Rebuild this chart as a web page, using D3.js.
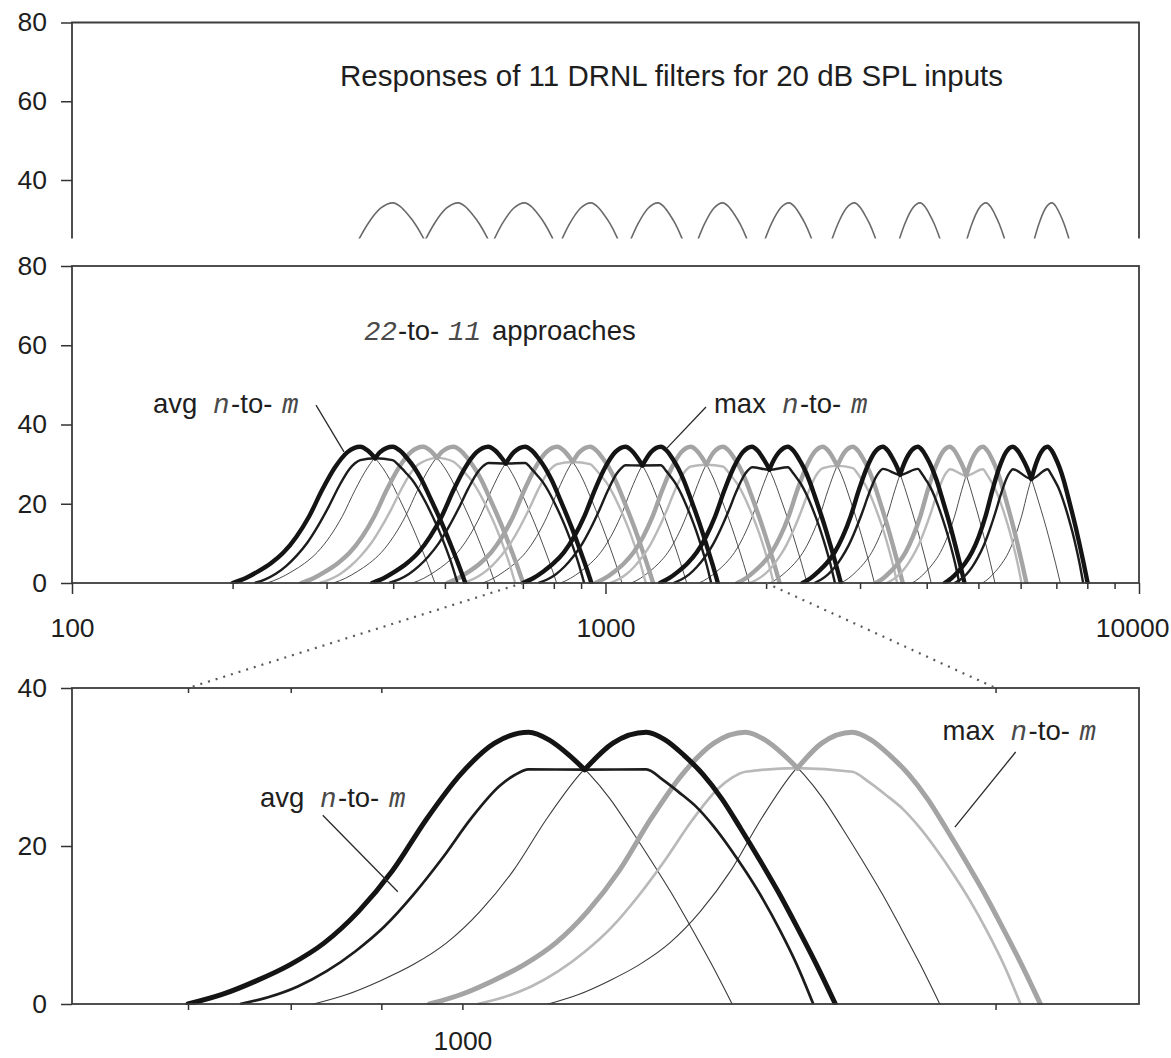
<!DOCTYPE html>
<html>
<head>
<meta charset="utf-8">
<title>DRNL filter responses – 22-to-11 channel reduction</title>
<script src="https://cdn.jsdelivr.net/npm/d3@7/dist/d3.min.js"></script>
<style>
  html, body { margin: 0; padding: 0; background: #fff; }
  svg text { font-family: "Liberation Sans", Arial, Helvetica, sans-serif; fill: #1e1e1e; }
  svg .mono { font-family: "Liberation Mono", "DejaVu Sans Mono", monospace; font-style: italic; fill: #4a4a4a; }
</style>
</head>
<body>
<svg id="chart" width="1171" height="1058"></svg>
<script>
// ---------------------------------------------------------------------------
// Axis ticks
// ---------------------------------------------------------------------------
const freqTicksMajor = [100, 1000, 10000];
const freqTicksMinor = [200, 300, 400, 500, 600, 700, 800, 900,
                        2000, 3000, 4000, 5000, 6000, 7000, 8000, 9000];
const zoomFreqTicks = [700, 800, 900, 1000, 2000];
const zoomFreqLabels = [1000];
const zoomTopTicks = [700, 800, 900, 2000];
const levelTicksTop = [40, 60, 80];
const levelTicksMid = [0, 20, 40, 60, 80];
const levelTicksZoom = [0, 20, 40];
const zoomBand = [700, 2000];          // frequency band enlarged in the lower panel

// ---------------------------------------------------------------------------
// 11 DRNL filters (upper panel): centre frequency, 0-dB crossings, peak level
// ---------------------------------------------------------------------------
const drnlCF     = [400, 530, 706, 940, 1255, 1660, 2210, 2930, 3890, 5170, 6870];
const drnlLowHz  = [232, 315, 434, 591, 814, 1118, 1505, 2047, 2791, 3807, 5184];
const drnlHighHz = [547, 716, 940, 1233, 1605, 2120, 2777, 3633, 4757, 6237, 8165];
const drnlPeakDb = [34.2, 34.2, 34.2, 34.2, 34.2, 34.2, 34.2, 34.2, 34.2, 34.2, 34.2];

// ---------------------------------------------------------------------------
// 22 filters combined pairwise into 11 channels (middle and lower panels)
// ---------------------------------------------------------------------------
const filterCF = [347, 399, 455, 519, 603, 707, 812, 936, 1090, 1270, 1445,
                  1660, 1882, 2198, 2556, 2909, 3311, 3851, 4421, 5099, 5802, 6742];
const filterLowHz = [200, 232, 269, 309, 365, 435, 505, 589, 700, 824, 958,
                     1118, 1265, 1497, 1766, 2032, 2340, 2763, 3213, 3755, 4321, 5089];
const filterHighHz = [479, 546, 621, 701, 810, 941, 1074, 1228, 1420, 1624, 1860,
                      2120, 2386, 2762, 3192, 3607, 4078, 4709, 5371, 6151, 7120, 8012];
const filterPeakDb = [34.4, 34.4, 34.4, 34.4, 34.4, 34.4, 34.4, 34.4, 34.4, 34.4, 34.4,
                      34.4, 34.4, 34.4, 34.4, 34.4, 34.4, 34.4, 34.4, 34.4, 34.4, 34.4];

// one shade per channel (pair of filters)
const pairShade = ["black", "gray", "black", "gray", "black", "gray",
                   "black", "gray", "black", "gray", "black"];

// averaged channel: 0-dB crossings and level at the two centre frequencies
const avgLowHz  = [220, 291, 393, 541, 749, 1020, 1341, 1865, 2463, 3367, 4512];
const avgHighHz = [528, 677, 912, 1190, 1578, 2066, 2692, 3520, 4604, 6023, 7859];
const avgShoulderDb = [31.0, 30.6, 30.3, 30.0, 29.7, 29.4, 29.2, 29.0, 28.8, 28.7, 28.7];

// channels enlarged in the lower panel
const zoomPairs = [4, 5];

// ---------------------------------------------------------------------------
// Response shapes: position between 0-dB crossing and centre frequency
// (fraction of the log-frequency span) vs. fraction of the peak level
// ---------------------------------------------------------------------------
const riseShape = [[0, 0], [0.1, 0.035], [0.2, 0.085], [0.3, 0.145], [0.4, 0.225],
                   [0.5, 0.34], [0.6, 0.49], [0.7, 0.68], [0.8, 0.845], [0.9, 0.96], [1, 1]];
const fallShape = [[0, 1], [0.1, 0.972], [0.2, 0.915], [0.3, 0.845], [0.4, 0.755],
                   [0.5, 0.645], [0.6, 0.53], [0.7, 0.41], [0.8, 0.28], [0.9, 0.145], [1, 0]];
const avgRiseShape = [[0, 0], [0.1, 0.03], [0.2, 0.075], [0.3, 0.14], [0.4, 0.225],
                      [0.5, 0.33], [0.6, 0.465], [0.7, 0.62], [0.8, 0.79], [0.9, 0.93],
                      [0.95, 0.975], [1, 1]];
const avgFallShape = [[0, 1], [0.1, 0.955], [0.2, 0.9], [0.3, 0.84], [0.4, 0.76],
                      [0.5, 0.665], [0.6, 0.56], [0.7, 0.445], [0.8, 0.315], [0.9, 0.17], [1, 0]];

// ---------------------------------------------------------------------------
// Scales
// ---------------------------------------------------------------------------
const svg = d3.select("#chart");
const xWide = d3.scaleLog().domain([100, 10000]).range([72, 1139]);
const yTop  = d3.scaleLinear().domain([0, 80]).range([337.5, 22.5]);
const topCut = 238.5;
const yMid  = d3.scaleLinear().domain([0, 80]).range([583, 266]);
const xZoom = d3.scaleLog().domain([602, 2410]).range([72, 1139]);
const yZoom = d3.scaleLinear().domain([0, 40]).range([1004, 688]);

// ---------------------------------------------------------------------------
// Curve construction
// ---------------------------------------------------------------------------
const lg = Math.log10, p10 = v => Math.pow(10, v);

function responsePoints(cf, lo, hi, peak, rise, fall) {
  const lc = lg(cf), ll = lg(lo), lh = lg(hi);
  const pts = rise.map(([u, v]) => [p10(ll + u * (lc - ll)), v * peak]);
  fall.slice(1).forEach(([w, v]) => pts.push([p10(lc + w * (lh - lc)), v * peak]));
  return pts;
}

function levelAt(pts, f) {
  const L = lg(f);
  if (L <= lg(pts[0][0])) return pts[0][1];
  for (let i = 0; i < pts.length - 1; i++) {
    const a = lg(pts[i][0]), b = lg(pts[i + 1][0]);
    if (L >= a && L <= b) {
      const t = (L - a) / (b - a);
      return pts[i][1] + t * (pts[i + 1][1] - pts[i][1]);
    }
  }
  return pts[pts.length - 1][1];
}

const filterPts = filterCF.map((cf, i) =>
  responsePoints(cf, filterLowHz[i], filterHighHz[i], filterPeakDb[i], riseShape, fallShape));
const drnlPts = drnlCF.map((cf, i) =>
  responsePoints(cf, drnlLowHz[i], drnlHighHz[i], drnlPeakDb[i], riseShape, fallShape));

// where the two filters of a channel cross (the notch of the max curve)
function crossing(k) {
  const A = filterPts[2 * k], B = filterPts[2 * k + 1];
  let lo = lg(filterCF[2 * k]), hi = lg(filterCF[2 * k + 1]);
  for (let it = 0; it < 50; it++) {
    const m = (lo + hi) / 2;
    if (levelAt(A, p10(m)) - levelAt(B, p10(m)) > 0) lo = m; else hi = m;
  }
  const f = p10((lo + hi) / 2);
  return [f, levelAt(A, f)];
}

const channels = d3.range(11).map(k => {
  const [fDip, dbDip] = crossing(k);
  const A = filterPts[2 * k], B = filterPts[2 * k + 1];
  const maxLeft = A.filter(d => d[0] < fDip).concat([[fDip, dbDip]]);
  const maxRight = [[fDip, dbDip]].concat(B.filter(d => d[0] > fDip));
  const la = lg(avgLowHz[k]), ca = lg(filterCF[2 * k]), cb = lg(filterCF[2 * k + 1]), ha = lg(avgHighHz[k]);
  const s = avgShoulderDb[k];
  const avg = avgRiseShape.map(([u, v]) => [p10(la + u * (ca - la)), v * s]);
  avg.push([fDip, dbDip]);
  avgFallShape.forEach(([w, v]) => avg.push([p10(cb + w * (ha - cb)), v * s]));
  return { k, shade: pairShade[k], maxLeft, maxRight, avg };
});

// ---------------------------------------------------------------------------
// Helpers
// ---------------------------------------------------------------------------
const defs = svg.append("defs");
function clip(id, x0, y0, x1, y1) {
  defs.append("clipPath").attr("id", id)
    .append("rect").attr("x", x0).attr("y", y0).attr("width", x1 - x0).attr("height", y1 - y0);
  return `url(#${id})`;
}

const shadeStyle = {
  black: { max: "#141414", avg: "#1c1c1c" },
  gray:  { max: "#a4a4a4", avg: "#b9b9b9" }
};

function drawBank(layer, x, y, pairs, st) {
  const line = d3.line().x(d => x(d[0])).y(d => y(d[1])).curve(d3.curveMonotoneX);
  const filt = pairs.flatMap(k => [2 * k, 2 * k + 1]);
  layer.append("g").selectAll("path").data(filt).join("path")
    .attr("d", i => line(filterPts[i]))
    .attr("fill", "none").attr("stroke", "#3a3a3a").attr("stroke-width", st.thin);
  ["gray", "black"].forEach(shade => {
    const chans = channels.filter(c => pairs.includes(c.k) && c.shade === shade);
    const g = layer.append("g");
    chans.forEach(c => {
      g.append("path").attr("d", line(c.avg))
        .attr("fill", "none").attr("stroke", shadeStyle[shade].avg)
        .attr("stroke-width", st.avg).attr("stroke-linejoin", "round");
      [c.maxLeft, c.maxRight].forEach(seg => {
        g.append("path").attr("d", line(seg))
          .attr("fill", "none").attr("stroke", shadeStyle[shade].max)
          .attr("stroke-width", st.max).attr("stroke-linejoin", "round").attr("stroke-linecap", "round");
      });
    });
  });
}

function styleAxis(g, fontSize) {
  g.attr("font-family", null).attr("font-size", null);
  g.selectAll(".tick line").attr("stroke", "#333").attr("stroke-width", 1.5);
  g.selectAll(".tick text").style("font-size", fontSize + "px").attr("fill", "#1e1e1e");
  g.select(".domain").remove();
}

const frame = { stroke: "#3c3c3c", width: 1.8 };
const fs = 26.5;

// ---------------------------------------------------------------------------
// Upper panel: responses of the 11 DRNL filters
// ---------------------------------------------------------------------------
const topG = svg.append("g");
const topLine = d3.line().x(d => xWide(d[0])).y(d => yTop(d[1])).curve(d3.curveMonotoneX);
topG.append("g").attr("clip-path", clip("clipTop", 72, 22.5, 1139, topCut))
  .selectAll("path").data(drnlPts).join("path")
  .attr("d", topLine).attr("fill", "none").attr("stroke", "#6a6a6a").attr("stroke-width", 1.6);
topG.append("path")
  .attr("d", `M${xWide(100)},${topCut}V${yTop(80)}H${xWide(10000)}V${topCut}`)
  .attr("fill", "none").attr("stroke", frame.stroke).attr("stroke-width", frame.width);
topG.append("g").attr("transform", `translate(${xWide(100)},0)`)
  .call(d3.axisLeft(yTop).tickValues(levelTicksTop).tickSize(11).tickPadding(14).tickFormat(d3.format("d")))
  .call(g => styleAxis(g, fs));
topG.append("text").attr("x", xWide(318)).attr("y", yTop(63.9))
  .style("font-size", "29.5px")
  .text("Responses of 11 DRNL filters for 20 dB SPL inputs");

// ---------------------------------------------------------------------------
// Middle panel: 22-to-11 approaches over the full frequency range
// ---------------------------------------------------------------------------
const midG = svg.append("g");
const midPlot = midG.append("g").attr("clip-path", clip("clipMid", 72, 262, 1139, yMid(0) + 1));
drawBank(midPlot, xWide, yMid, d3.range(11), { thin: 0.9, avg: 2.4, max: 4.4 });
midG.append("rect").attr("x", xWide(100)).attr("y", yMid(80))
  .attr("width", xWide(10000) - xWide(100)).attr("height", yMid(0) - yMid(80))
  .attr("fill", "none").attr("stroke", frame.stroke).attr("stroke-width", frame.width);
midG.append("g").attr("transform", `translate(${xWide(100)},0)`)
  .call(d3.axisLeft(yMid).tickValues(levelTicksMid).tickSize(11).tickPadding(14).tickFormat(d3.format("d")))
  .call(g => styleAxis(g, fs));
midG.append("g").attr("transform", `translate(0,${yMid(0)})`)
  .call(d3.axisBottom(xWide).tickValues(freqTicksMajor).tickSize(11).tickPadding(24).tickFormat(d3.format("d")))
  .call(g => styleAxis(g, fs))
  // keep the last label inside the page edge
  .call(g => g.selectAll(".tick text").filter(d => d === 10000)
    .attr("text-anchor", "end").attr("x", 1169 - xWide(10000)));
midG.append("g").attr("transform", `translate(0,${yMid(0)})`)
  .call(d3.axisBottom(xWide).tickValues(freqTicksMinor).tickSize(6).tickFormat(""))
  .call(g => styleAxis(g, fs));

// ---------------------------------------------------------------------------
// Lower panel: enlarged view of two channels
// ---------------------------------------------------------------------------
const lowG = svg.append("g");
const lowPlot = lowG.append("g").attr("clip-path", clip("clipLow", 72, 684, 1139, yZoom(0) + 1));
drawBank(lowPlot, xZoom, yZoom, zoomPairs, { thin: 1.1, avg: 2.7, max: 5 });
lowG.append("rect").attr("x", 72).attr("y", yZoom(40))
  .attr("width", 1139 - 72).attr("height", yZoom(0) - yZoom(40))
  .attr("fill", "none").attr("stroke", frame.stroke).attr("stroke-width", frame.width);
lowG.append("g").attr("transform", "translate(72,0)")
  .call(d3.axisLeft(yZoom).tickValues(levelTicksZoom).tickSize(11).tickPadding(14).tickFormat(d3.format("d")))
  .call(g => styleAxis(g, fs));
lowG.append("g").attr("transform", `translate(0,${yZoom(0)})`)
  .call(d3.axisBottom(xZoom).tickValues(zoomFreqTicks).tickSize(6).tickPadding(21)
    .tickFormat(d => zoomFreqLabels.includes(d) ? d3.format("d")(d) : ""))
  .call(g => styleAxis(g, fs));
lowG.append("g").attr("transform", `translate(0,${yZoom(40)})`)
  .call(d3.axisBottom(xZoom).tickValues(zoomTopTicks).tickSize(5).tickFormat(""))
  .call(g => styleAxis(g, fs));

// dotted guides linking the enlarged band to the middle panel
svg.append("g").selectAll("line").data(zoomBand).join("line")
  .attr("x1", f => xWide(f)).attr("y1", yMid(0))
  .attr("x2", f => xZoom(f)).attr("y2", yZoom(40))
  .attr("stroke", "#5a5a5a").attr("stroke-width", 2.2).attr("stroke-dasharray", "2,6");

// ---------------------------------------------------------------------------
// Labels and leader lines
// ---------------------------------------------------------------------------
function nToM(g, x, y, word, offs) {
  const t = g.append("text").attr("x", x).attr("y", y).style("font-size", "27.5px");
  t.append("tspan").text(word);
  t.append("tspan").attr("class", "mono").attr("x", x + offs[0]).text("n");
  t.append("tspan").attr("x", x + offs[1]).text("-to-");
  t.append("tspan").attr("class", "mono").attr("x", x + offs[2]).text("m");
}
function leader(g, x1, y1, x2, y2) {
  g.append("line").attr("x1", x1).attr("y1", y1).attr("x2", x2).attr("y2", y2)
    .attr("stroke", "#2a2a2a").attr("stroke-width", 1.3);
}

// "22-to- 11 approaches"
const tx = xWide(352.6);
const ttl = midG.append("text").attr("x", tx).attr("y", yMid(61.3)).style("font-size", "27.5px");
ttl.append("tspan").attr("class", "mono").text("22");
ttl.append("tspan").attr("x", tx + 34).text("-to-");
ttl.append("tspan").attr("class", "mono").attr("x", tx + 84).text("11");
ttl.append("tspan").attr("x", tx + 128).text("approaches");

nToM(midG, xWide(141.9), yMid(42.9), "avg", [60, 78, 129]);
leader(midG, xWide(286.7), yMid(44.9), xWide(323.5), yMid(33.1));
nToM(midG, xWide(1597), yMid(42.9), "max", [68, 86, 137]);
leader(midG, xWide(1543), yMid(44.4), xWide(1305), yMid(34.1));

nToM(lowG, xZoom(768.7), yZoom(24.9), "avg", [60, 78, 129]);
leader(lowG, xZoom(834), yZoom(23.9), xZoom(919.5), yZoom(14.2));
nToM(lowG, xZoom(1867), yZoom(33.4), "max", [68, 86, 137]);
leader(lowG, xZoom(2053), yZoom(31.9), xZoom(1897), yZoom(22.4));
</script>
</body>
</html>
